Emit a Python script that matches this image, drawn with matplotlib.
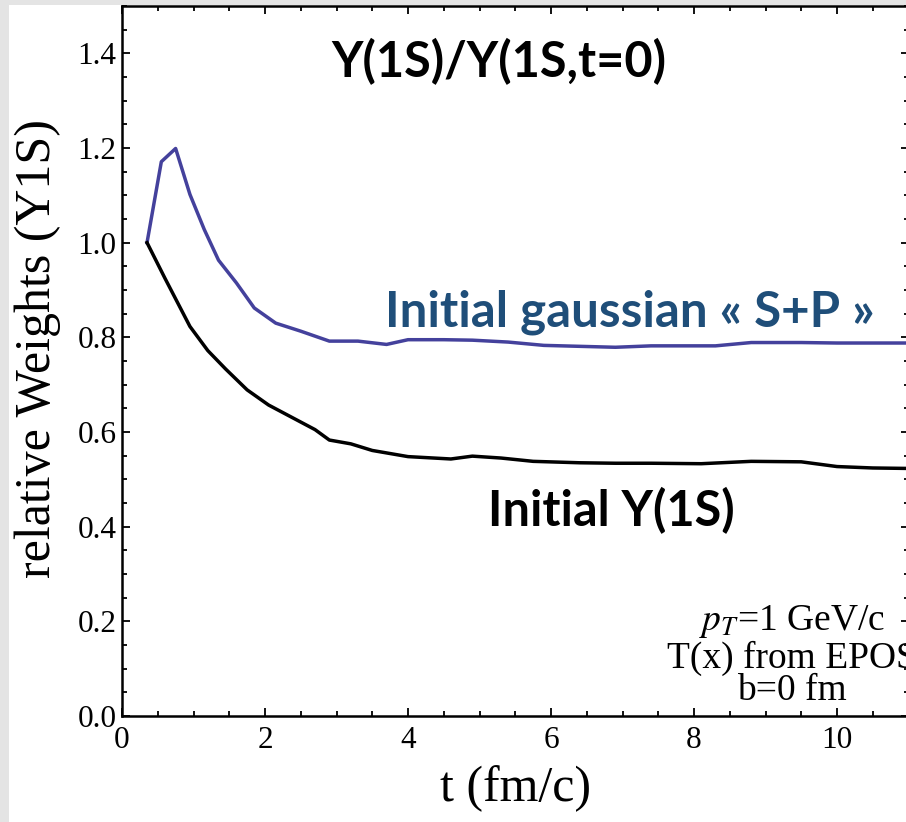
import numpy as np
import matplotlib.pyplot as plt
from matplotlib.patches import Rectangle
from matplotlib.ticker import MultipleLocator

# values
t_black = [0.35, 0.6, 0.95, 1.2, 1.45, 1.75, 2.05, 2.35, 2.7, 2.9, 3.2, 3.5, 4.0, 4.6,
           4.9, 5.3, 5.75, 6.4, 6.9, 7.4, 8.1, 8.8, 9.5, 10.0, 10.5, 11.0]
w_black = [1.0, 0.925, 0.823, 0.772, 0.733, 0.689, 0.657, 0.633, 0.605, 0.583, 0.575, 0.561, 0.548, 0.543,
           0.549, 0.545, 0.538, 0.535, 0.534, 0.534, 0.533, 0.538, 0.537, 0.527, 0.524, 0.523]

t_blue = [0.35, 0.55, 0.75, 0.95, 1.15, 1.35, 1.6, 1.85, 2.15, 2.5, 2.9, 3.3, 3.7, 4.0,
          4.5, 4.9, 5.4, 5.9, 6.4, 6.9, 7.4, 8.3, 8.8, 9.5, 10.0, 10.5, 11.0]
w_blue = [1.0, 1.171, 1.199, 1.102, 1.028, 0.963, 0.915, 0.862, 0.830, 0.813, 0.792, 0.792, 0.785, 0.795,
          0.795, 0.794, 0.790, 0.783, 0.781, 0.779, 0.782, 0.782, 0.789, 0.789, 0.788, 0.788, 0.788]

plt.rcParams['mathtext.fontset'] = 'stix'
serif = 'Liberation Serif'
sans = 'Lato'

fig = plt.figure(figsize=(9.06, 8.22), dpi=100, facecolor='#e4e4e4')
# white slide area behind everything
fig.patches.append(Rectangle((9 / 906, 0), 1, 1 - 5 / 822, transform=fig.transFigure,
                             facecolor='white', edgecolor='none', zorder=-10))

ax = fig.add_axes([122 / 906, (822 - 716) / 822, (908.5 - 122) / 906, (716 - 6) / 822])
ax.set_facecolor('white')

ax.plot(t_blue, w_blue, color='#44419c', lw=2.5)
ax.plot(t_black, w_black, color='black', lw=2.5)

ax.set_xlim(0, 11)
ax.set_ylim(0, 1.5)
ax.xaxis.set_major_locator(MultipleLocator(2))
ax.xaxis.set_minor_locator(MultipleLocator(0.5))
ax.yaxis.set_major_locator(MultipleLocator(0.2))
ax.yaxis.set_minor_locator(MultipleLocator(0.05))
ax.yaxis.set_major_formatter(plt.FuncFormatter(lambda v, p: '%.1f' % v))

ax.tick_params(which='both', direction='in', top=True, right=True, width=1.3,
               labelsize=22.5)
ax.tick_params(axis='x', pad=7)
ax.tick_params(axis='y', pad=4)
ax.tick_params(which='major', length=6)
ax.tick_params(which='minor', length=3.5)
for lab in ax.get_xticklabels() + ax.get_yticklabels():
    lab.set_fontfamily(serif)
for s in ax.spines.values():
    s.set_linewidth(1.8)

ax.set_xlabel('t (fm/c)', fontfamily=serif, fontsize=36, labelpad=8)
ax.set_ylabel('relative Weights (Y1S)', fontfamily=serif, fontsize=36)
ax.yaxis.set_label_coords(-0.077, 0.517)

ax.text(5.27, 1.383, 'Y(1S)/Y(1S,t=0)', fontfamily=sans, fontweight='bold',
        fontsize=35, ha='center', va='center')
ax.text(7.1, 0.852, 'Initial gaussian \u00ab S+P \u00bb', fontfamily=sans, fontweight='bold',
        fontsize=35.5, color='#1f4e79', ha='center', va='center')
ax.text(6.84, 0.433, 'Initial Y(1S)', fontfamily=sans, fontweight='bold',
        fontsize=35, ha='center', va='center')

# bottom-right note, cut by the right edge as in the original slide
ax.text(9.37, 0.181, '$p_T$=1 GeV/c', fontfamily=serif, fontsize=27, ha='center',
        va='baseline', clip_on=False)
ax.text(9.37, 0.101, 'T(x) from EPOS', fontfamily=serif, fontsize=27, ha='center',
        va='baseline', clip_on=False)
ax.text(9.37, 0.033, 'b=0 fm', fontfamily=serif, fontsize=27, ha='center',
        va='baseline', clip_on=False)

fig.savefig('out.png', dpi=100, facecolor=fig.get_facecolor())
